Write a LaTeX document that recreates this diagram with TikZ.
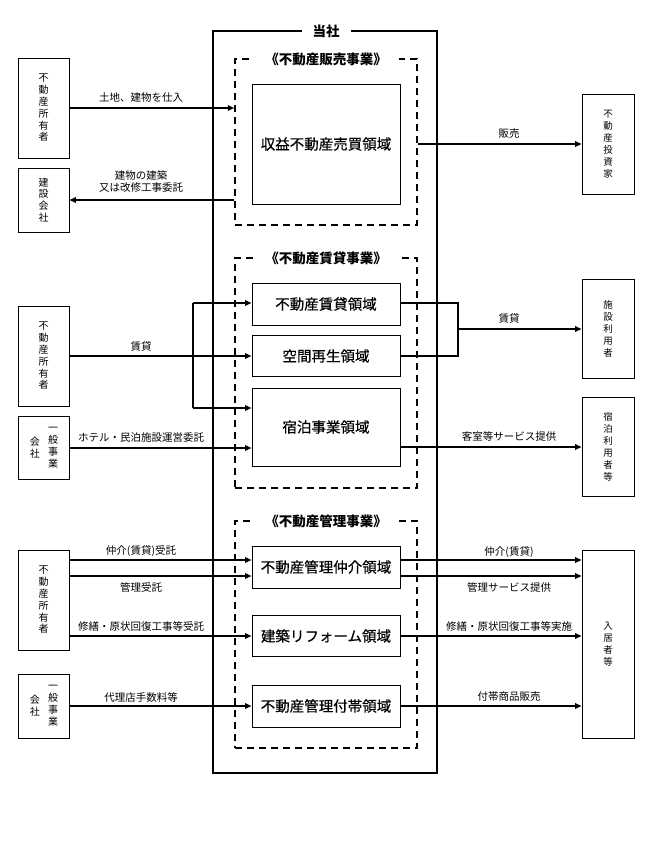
\documentclass[tikz,border=0pt]{standalone}
\usepackage{fontspec}
\setmainfont{Noto Sans CJK JP}
\newfontfamily\medfont{Noto Sans CJK JP}[FakeBold=0.6]
\usetikzlibrary{arrows.meta,calc}
\begin{document}
\begin{tikzpicture}[x=1pt,y=-1pt,
  sbox/.style={draw, line width=0.9pt, inner sep=0pt, minimum width=51pt, align=center, font=\fontsize{10}{11.8}\selectfont},
  rbox/.style={draw, line width=0.9pt, inner sep=0pt, minimum width=52pt, align=center, font=\fontsize{9.5}{12}\selectfont},
  ibox/.style={draw, line width=1pt, inner sep=0pt, minimum width=148pt, font=\medfont\fontsize{14.5}{16}\selectfont},
  dbox/.style={draw, line width=1.5pt, dash pattern=on 7pt off 5pt, inner sep=0pt, minimum width=182pt},
  obox/.style={draw, line width=1.7pt, inner sep=0pt},
  ttl/.style={fill=white, inner xsep=12pt, inner ysep=1pt, font=\fontsize{13.5}{15}\bfseries\selectfont},
  arr/.style={line width=1.6pt, -{Triangle[length=6.5pt,width=5.5pt]}},
  ln/.style={line width=1.6pt},
  lbl/.style={inner sep=0pt, align=center, font=\fontsize{10.5}{13}\selectfont},
  vtxt/.style={inner sep=0pt, align=center, font=\fontsize{10}{12}\selectfont}
]
\useasboundingbox (0,0) rectangle (651,868);

% outer and dashed boxes
\node[obox, minimum width=224pt, minimum height=742pt] (tousha) at (325,402) {};
\node[dbox, minimum height=166pt] (d1) at (326,142) {};
\node[dbox, minimum height=230pt] (d2) at (326,373) {};
\node[dbox, minimum height=227pt] (d3) at (326,634.5) {};
\node[ttl, inner xsep=11pt] (t0) at (326,31) {当社};
\node[ttl] (t1) at (326,59) {《不動産販売事業》};
\node[ttl] (t2) at (326,258) {《不動産賃貸事業》};
\node[ttl] (t3) at (326,521) {《不動産管理事業》};

% inner boxes
\node[ibox, minimum height=120pt] (r1) at (326,144) {収益不動産売買領域};
\node[ibox, minimum height=42pt] (r2) at (326,304) {不動産賃貸領域};
\node[ibox, minimum height=41pt] (r3) at (326,356) {空間再生領域};
\node[ibox, minimum height=78pt] (r4) at (326,427) {宿泊事業領域};
\node[ibox, minimum height=42pt] (r5) at (326,567) {不動産管理仲介領域};
\node[ibox, minimum height=41pt] (r6) at (326,636) {建築リフォーム領域};
\node[ibox, minimum height=42pt] (r7) at (326,706) {不動産管理付帯領域};

% left boxes
\node[sbox, minimum height=100pt] (own1) at (43.5,108) {不\\動\\産\\所\\有\\者};
\node[sbox, minimum height=64pt] (kensetsu) at (43.5,200) {建\\設\\会\\社};
\node[sbox, minimum height=100pt] (own2) at (43.5,356) {不\\動\\産\\所\\有\\者};
\node[sbox, minimum height=63pt] (ippan1) at (43.5,448) {};
\node[vtxt] (ip1a) at ([xshift=9.5pt]ippan1.center) {一\\般\\事\\業};
\node[vtxt] (ip1b) at ([xshift=-8.5pt]ippan1.center) {会\\社};
\node[sbox, minimum height=100pt] (own3) at (43.5,600) {不\\動\\産\\所\\有\\者};
\node[sbox, minimum height=64pt] (ippan2) at (43.5,706) {};
\node[vtxt] (ip2a) at ([xshift=9.5pt]ippan2.center) {一\\般\\事\\業};
\node[vtxt] (ip2b) at ([xshift=-8.5pt]ippan2.center) {会\\社};

% right boxes
\node[rbox, minimum height=100pt] (investor) at (608,144) {不\\動\\産\\投\\資\\家};
\node[rbox, minimum height=99pt] (shisetsu) at (608,329) {施\\設\\利\\用\\者};
\node[rbox, minimum height=99pt] (shukuhaku) at (608,447) {宿\\泊\\利\\用\\者\\等};
\node[rbox, minimum height=188pt] (nyukyo) at (608,644) {入\\居\\者\\等};

% sales business
\draw[arr] (own1.east) -- (own1.east -| d1.west);
\draw[arr] (kensetsu.east -| d1.west) -- (kensetsu.east);
\draw[arr] (investor.west -| d1.east) -- (investor.west);

% leasing business
\coordinate (b1) at (193,303);
\coordinate (b2) at (193,408);
\coordinate (c1) at (458,329);
\draw[arr] (own2.east) -- (own2.east -| r3.west);
\draw[ln] (b1) -- (b2);
\draw[arr] (b1) -- (b1 -| r2.west);
\draw[arr] (b2) -- (b2 -| r4.west);
\draw[arr] (ippan1.east) -- (ippan1.east -| r4.west);
\draw[ln] (b1 -| r2.east) -- (b1 -| c1) -- (r3.east -| c1) -- (r3.east);
\draw[arr] (shisetsu.west -| c1) -- (shisetsu.west);
\draw[arr] (shukuhaku.west -| r4.east) -- (shukuhaku.west);

% management business
\coordinate (m1) at ([yshift=40pt]own3.east);
\coordinate (m2) at ([yshift=24pt]own3.east);
\coordinate (m3) at ([yshift=-36pt]own3.east);
\draw[arr] (m1) -- (m1 -| r5.west);
\draw[arr] (m2) -- (m2 -| r5.west);
\draw[arr] (m3) -- (m3 -| r6.west);
\draw[arr] (ippan2.east) -- (ippan2.east -| r7.west);
\draw[arr] (m1 -| r5.east) -- (m1 -| nyukyo.west);
\draw[arr] (m2 -| r5.east) -- (m2 -| nyukyo.west);
\draw[arr] (m3 -| r6.east) -- (m3 -| nyukyo.west);
\draw[arr] (r7.east) -- (r7.east -| nyukyo.west);

% labels
\node[lbl] (l1) at (141,98) {土地、建物を仕入};
\node[lbl] (l2) at (141,181.5) {建物の建築\\又は改修工事委託};
\node[lbl] (l3) at (509,134) {販売};
\node[lbl] (l4) at (141,346) {賃貸};
\node[lbl] (l5) at (141,437) {ホテル・民泊施設運営委託};
\node[lbl] (l6) at (509,318) {賃貸};
\node[lbl] (l7) at (509,436) {客室等サービス提供};
\node[lbl] (l8) at (141,551) {仲介(賃貸)受託};
\node[lbl] (l9) at (141,587) {管理受託};
\node[lbl] (l10) at (141,626) {修繕・原状回復工事等受託};
\node[lbl] (l11) at (141,697) {代理店手数料等};
\node[lbl] (l12) at (509,552) {仲介(賃貸)};
\node[lbl] (l13) at (509,587) {管理サービス提供};
\node[lbl] (l14) at (509,626) {修繕・原状回復工事等実施};
\node[lbl] (l15) at (509,697) {付帯商品販売};
\end{tikzpicture}
\end{document}
